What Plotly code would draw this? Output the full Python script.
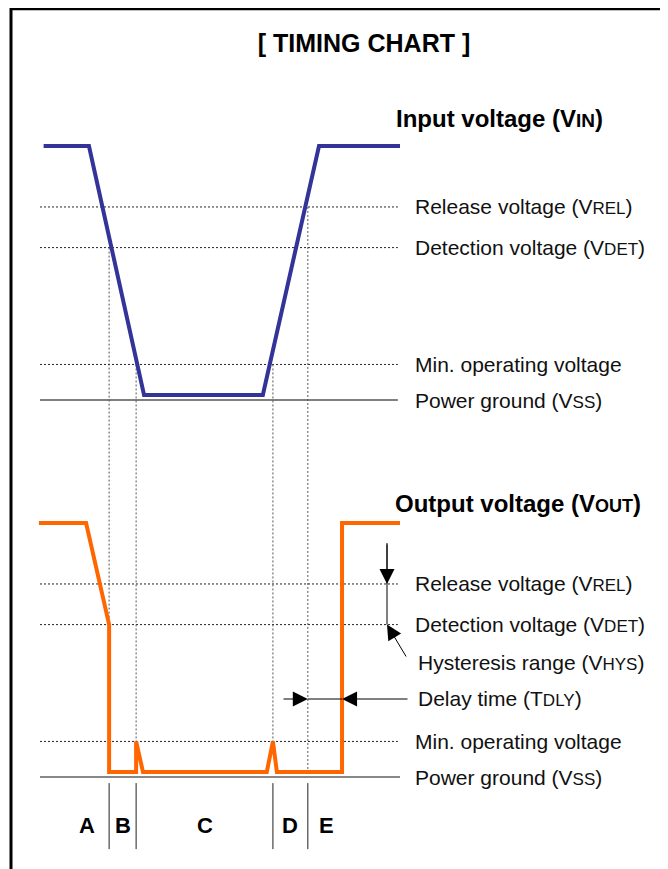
import plotly.graph_objects as go

# ---------------- data (time in arbitrary units, voltage in V) ----------------
V_HIGH = 5.0
V_REL = 3.8
V_DET = 3.0
V_MIN = 0.7
V_SS = 0.0
V_LOW = 0.1

IN_T = [1.0, 13.6, 28.9, 61.9, 77.5, 100.0]
IN_V = [5.0, 5.0, 0.1, 0.1, 5.0, 5.0]

OUT_T = [-0.3, 12.8, 19.2, 19.2, 26.7, 26.7, 28.6, 63.0, 64.7, 65.8, 83.9, 83.9, 100.0]
OUT_V = [5.0, 5.0, 3.0, 0.1, 0.1, 0.7, 0.1, 0.1, 0.7, 0.1, 0.1, 5.0, 5.0]

T_CROSS = [19.2, 26.7, 64.7, 74.4]          # event times (A|B, B|C, C|D, D|E)
CROSS_FROM = [V_DET, V_MIN, V_MIN, V_REL]   # level on input where guide starts
CROSS_TO = [V_DET, V_MIN, V_MIN, V_LOW]     # level on output where guide ends
SEGMENTS = ["A", "B", "C", "D", "E"]

LEVELS = [V_REL, V_DET, V_MIN]
SC = 17  # small-caps size for labels
LEVEL_LABELS = [f"Release voltage (V<span style='font-size:{SC}px'>REL</span>)",
                f"Detection voltage (V<span style='font-size:{SC}px'>DET</span>)",
                "Min. operating voltage"]
GROUND_LABEL = f"Power ground (V<span style='font-size:{SC}px'>SS</span>)"
TITLE = "[ TIMING CHART ]"
IN_HEADER = "Input voltage (V<span style='font-size:19px'>IN</span>)"
OUT_HEADER = "Output voltage (V<span style='font-size:18px'>OUT</span>)"
HYS_LABEL = f"Hysteresis range (V<span style='font-size:{SC}px'>HYS</span>)"
DLY_LABEL = f"Delay time (T<span style='font-size:{SC}px'>DLY</span>)"

# ---------------- layout constants ----------------
PAGE_OFF = 8        # browser default body margin
W, H = 668 - PAGE_OFF, 869 - PAGE_OFF
PX_T = 3.6          # px per time unit
X0 = 40 - PAGE_OFF  # figure px of t=0
PX_V = 50.8         # px per volt
Y0 = 400 - PAGE_OFF # figure px of input ground
Y0_OUT = 777 - PAGE_OFF
OUT_SHIFT = -(Y0_OUT - Y0) / PX_V   # output panel offset in V
BLUE = "#333399"
ORANGE = "#FF6600"
FONT = "Arial, 'Liberation Sans', Helvetica, sans-serif"

def o(v):
    return v + OUT_SHIFT

def tx(page_px):           # page x pixel -> time units
    return (page_px - PAGE_OFF - X0) / PX_T

def vo(page_py):           # page y pixel -> output-panel volts
    return (Y0_OUT - (page_py - PAGE_OFF)) / PX_V

def vi(page_py):           # page y pixel -> input-panel volts
    return (Y0 - (page_py - PAGE_OFF)) / PX_V

fig = go.Figure()
shapes = []
annotations = []

def hline(y, x0, x1, color, width, dash):
    shapes.append(dict(type="line", xref="x", yref="y", x0=x0, x1=x1, y0=y, y1=y,
                       line=dict(color=color, width=width, dash=dash), layer="below"))

def vline(x, y0, y1, color, width, dash):
    shapes.append(dict(type="line", xref="x", yref="y", x0=x, x1=x, y0=y0, y1=y1,
                       line=dict(color=color, width=width, dash=dash), layer="below"))

T_L, T_R = 0.0, 99.4
for lv in LEVELS:
    hline(lv, T_L, T_R, "#222222", 1, "2px,2px")
    hline(o(lv), T_L, T_R, "#222222", 1, "2px,2px")
hline(V_SS, T_L, T_R, "#000000", 1.2, "solid")
hline(o(V_SS), T_L, 100, "#888888", 2, "solid")

# vertical guides and segment dividers
for t, a, b in zip(T_CROSS, CROSS_FROM, CROSS_TO):
    vline(t, a, o(b), "#555555", 1, "2px,2px")
    vline(t, o(-0.12), o(-1.42), "#222222", 1, "solid")

# waveforms
fig.add_trace(go.Scatter(x=IN_T, y=IN_V, mode="lines",
                         line=dict(color=BLUE, width=4),
                         hoverinfo="skip", showlegend=False))
fig.add_trace(go.Scatter(x=OUT_T, y=[o(v) for v in OUT_V], mode="lines",
                         line=dict(color=ORANGE, width=4),
                         hoverinfo="skip", showlegend=False))

# labels
lab_font = dict(family=FONT, size=21, color="#111111")
head_font = dict(family=FONT, size=24, color="#000000")

def label(t, y, text, font):
    annotations.append(dict(x=t, y=y, xref="x", yref="y", text=text, showarrow=False,
                            xanchor="left", yanchor="middle", font=font))

T_LAB = tx(413)
for lv, txt in zip(LEVELS, LEVEL_LABELS):
    label(T_LAB, lv, txt, lab_font)
    label(T_LAB, o(lv), txt, lab_font)
label(T_LAB, V_SS, GROUND_LABEL, lab_font)
label(T_LAB, o(V_SS), GROUND_LABEL, lab_font)
label(tx(394), vi(118), "<b>" + IN_HEADER + "</b>", head_font)
label(tx(393), o(vo(503)), "<b>" + OUT_HEADER + "</b>", head_font)
label(tx(416), o(vo(662)), HYS_LABEL, lab_font)
label(tx(416), o(vo(698)), DLY_LABEL, lab_font)

def arrow(x, y, ax, ay):
    annotations.append(dict(x=x, y=y, ax=ax, ay=ay, xref="x", yref="y", axref="x", ayref="y",
                            text="", showarrow=True, arrowhead=2, arrowsize=3,
                            arrowwidth=1, arrowcolor="#000000", standoff=0, startstandoff=0))

# hysteresis arrow
t_h = tx(387)
v_top = vo(543)
vline(t_h, o(v_top), o(V_DET), "#000000", 1, "solid")
arrow(t_h, o(V_REL), t_h, o(v_top))
arrow(t_h, o(V_DET), tx(407), o(vo(658)))

# delay time arrows
v_d = vo(699)
t_out_rise = OUT_T[-2]
arrow(T_CROSS[3], o(v_d), tx(282), o(v_d))
arrow(t_out_rise, o(v_d), tx(409), o(v_d))
shapes.append(dict(type="line", xref="x", yref="y", x0=T_CROSS[3], x1=t_out_rise,
                   y0=o(v_d), y1=o(v_d), line=dict(color="#000000", width=1)))

# segment letters
seg_t = [T_CROSS[0] - 6.1] + [(T_CROSS[i] + T_CROSS[i + 1]) / 2 for i in range(3)] + [T_CROSS[3] + 5.3]
for t, s in zip(seg_t, SEGMENTS):
    annotations.append(dict(x=t, y=o(vo(825)), xref="x", yref="y",
                            text="<b>" + s + "</b>", showarrow=False,
                            xanchor="center", yanchor="middle",
                            font=dict(family=FONT, size=22, color="#000000")))

# frame (open at bottom)
bx0, bx1, by = 3 / W, 657 / W, 1 - 0.8 / H
shapes.append(dict(type="path", xref="paper", yref="paper",
                   path=f"M {bx0} -0.02 L {bx0} {by} L {bx1} {by} L {bx1} -0.02",
                   line=dict(color="#000000", width=3)))

fig.update_layout(
    width=W, height=H,
    margin=dict(l=0, r=0, t=0, b=0),
    paper_bgcolor="white", plot_bgcolor="white",
    title=dict(text="<b>" + TITLE + "</b>", x=(364 - PAGE_OFF) / W, y=1 - (43 - PAGE_OFF) / H,
               xanchor="center", yanchor="middle",
               font=dict(family=FONT, size=25, color="#000000")),
    xaxis=dict(range=[-X0 / PX_T, (W - X0) / PX_T], visible=False, fixedrange=True),
    yaxis=dict(range=[(Y0 - H) / PX_V, Y0 / PX_V], visible=False, fixedrange=True),
    shapes=shapes, annotations=annotations, showlegend=False,
)

fig.write_html("out.html")
